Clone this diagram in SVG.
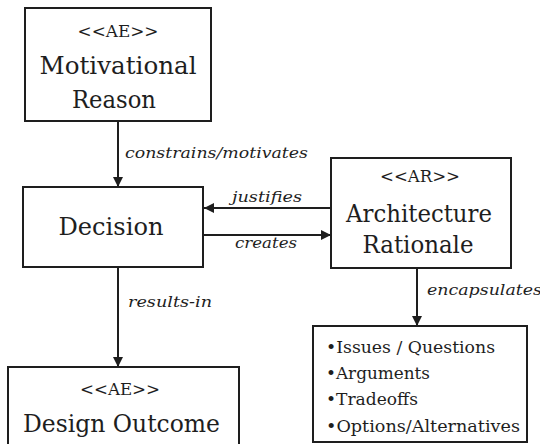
<svg xmlns="http://www.w3.org/2000/svg" width="540" height="444" viewBox="0 0 540 444">
<style>
.box{fill:#fff;stroke:#1e1e1e;stroke-width:2}
.st{font-family:"DejaVu Serif","Liberation Serif",serif;font-size:16px;fill:#1e1e1e;text-anchor:middle}
.nm{font-family:"DejaVu Serif","Liberation Serif",serif;font-size:25px;fill:#1e1e1e;text-anchor:middle}
.li{font-family:"DejaVu Serif","Liberation Serif",serif;font-size:17px;fill:#1e1e1e}
.lb{font-family:"DejaVu Serif","Liberation Serif",serif;font-style:italic;font-size:15px;fill:#1e1e1e}
.ln{stroke:#1e1e1e;stroke-width:2;fill:none;marker-end:url(#ah)}
</style>
<defs>
<marker id="ah" viewBox="0 0 10 10" refX="10" refY="5" markerWidth="5" markerHeight="5" orient="auto" markerUnits="strokeWidth">
<path d="M0,0 L10,5 L0,10 z" fill="#1e1e1e"/>
</marker>
</defs>
<rect width="540" height="444" fill="#fff"/>
<g id="connectors">
<line class="ln" x1="118" y1="121" x2="118" y2="187"/>
<text class="lb" x="125" y="158" textLength="183" lengthAdjust="spacingAndGlyphs">constrains/motivates</text>
<line class="ln" x1="331" y1="208" x2="204" y2="208"/>
<text class="lb" x="232" y="202" textLength="70" lengthAdjust="spacingAndGlyphs">justifies</text>
<line class="ln" x1="203" y1="235" x2="331" y2="235"/>
<text class="lb" x="235" y="248" textLength="62" lengthAdjust="spacingAndGlyphs">creates</text>
<line class="ln" x1="118" y1="267" x2="118" y2="367"/>
<text class="lb" x="128" y="307" textLength="84" lengthAdjust="spacingAndGlyphs">results-in</text>
<line class="ln" x1="417" y1="268" x2="417" y2="326"/>
<text class="lb" x="427" y="295" textLength="115" lengthAdjust="spacingAndGlyphs">encapsulates</text>
</g>
<g id="motivational-reason">
<rect class="box" x="25" y="8" width="186" height="113"/>
<text class="st" x="118" y="37" textLength="81" lengthAdjust="spacingAndGlyphs">&lt;&lt;AE&gt;&gt;</text>
<text class="nm" x="118" y="74" textLength="157" lengthAdjust="spacingAndGlyphs">Motivational</text>
<text class="nm" x="114" y="108" textLength="84" lengthAdjust="spacingAndGlyphs">Reason</text>
</g>
<g id="decision">
<rect class="box" x="23" y="187" width="180" height="80"/>
<text class="nm" x="111" y="235" textLength="105" lengthAdjust="spacingAndGlyphs">Decision</text>
</g>
<g id="architecture-rationale">
<rect class="box" x="331" y="158" width="180" height="110"/>
<text class="st" x="420" y="182" textLength="80" lengthAdjust="spacingAndGlyphs">&lt;&lt;AR&gt;&gt;</text>
<text class="nm" x="419" y="222" textLength="146" lengthAdjust="spacingAndGlyphs">Architecture</text>
<text class="nm" x="418" y="253" textLength="111" lengthAdjust="spacingAndGlyphs">Rationale</text>
</g>
<g id="design-outcome">
<rect class="box" x="8" y="367" width="231" height="90"/>
<text class="st" x="120" y="395" textLength="80" lengthAdjust="spacingAndGlyphs">&lt;&lt;AE&gt;&gt;</text>
<text class="nm" x="121.5" y="432" textLength="197" lengthAdjust="spacingAndGlyphs">Design Outcome</text>
</g>
<g id="rationale-contents">
<rect class="box" x="313" y="326" width="214" height="116"/>
<text class="li" x="326" y="353" textLength="169" lengthAdjust="spacingAndGlyphs">•Issues / Questions</text>
<text class="li" x="326" y="379" textLength="104" lengthAdjust="spacingAndGlyphs">•Arguments</text>
<text class="li" x="326" y="405" textLength="92" lengthAdjust="spacingAndGlyphs">•Tradeoffs</text>
<text class="li" x="326" y="432" textLength="194" lengthAdjust="spacingAndGlyphs">•Options/Alternatives</text>
</g>
</svg>
